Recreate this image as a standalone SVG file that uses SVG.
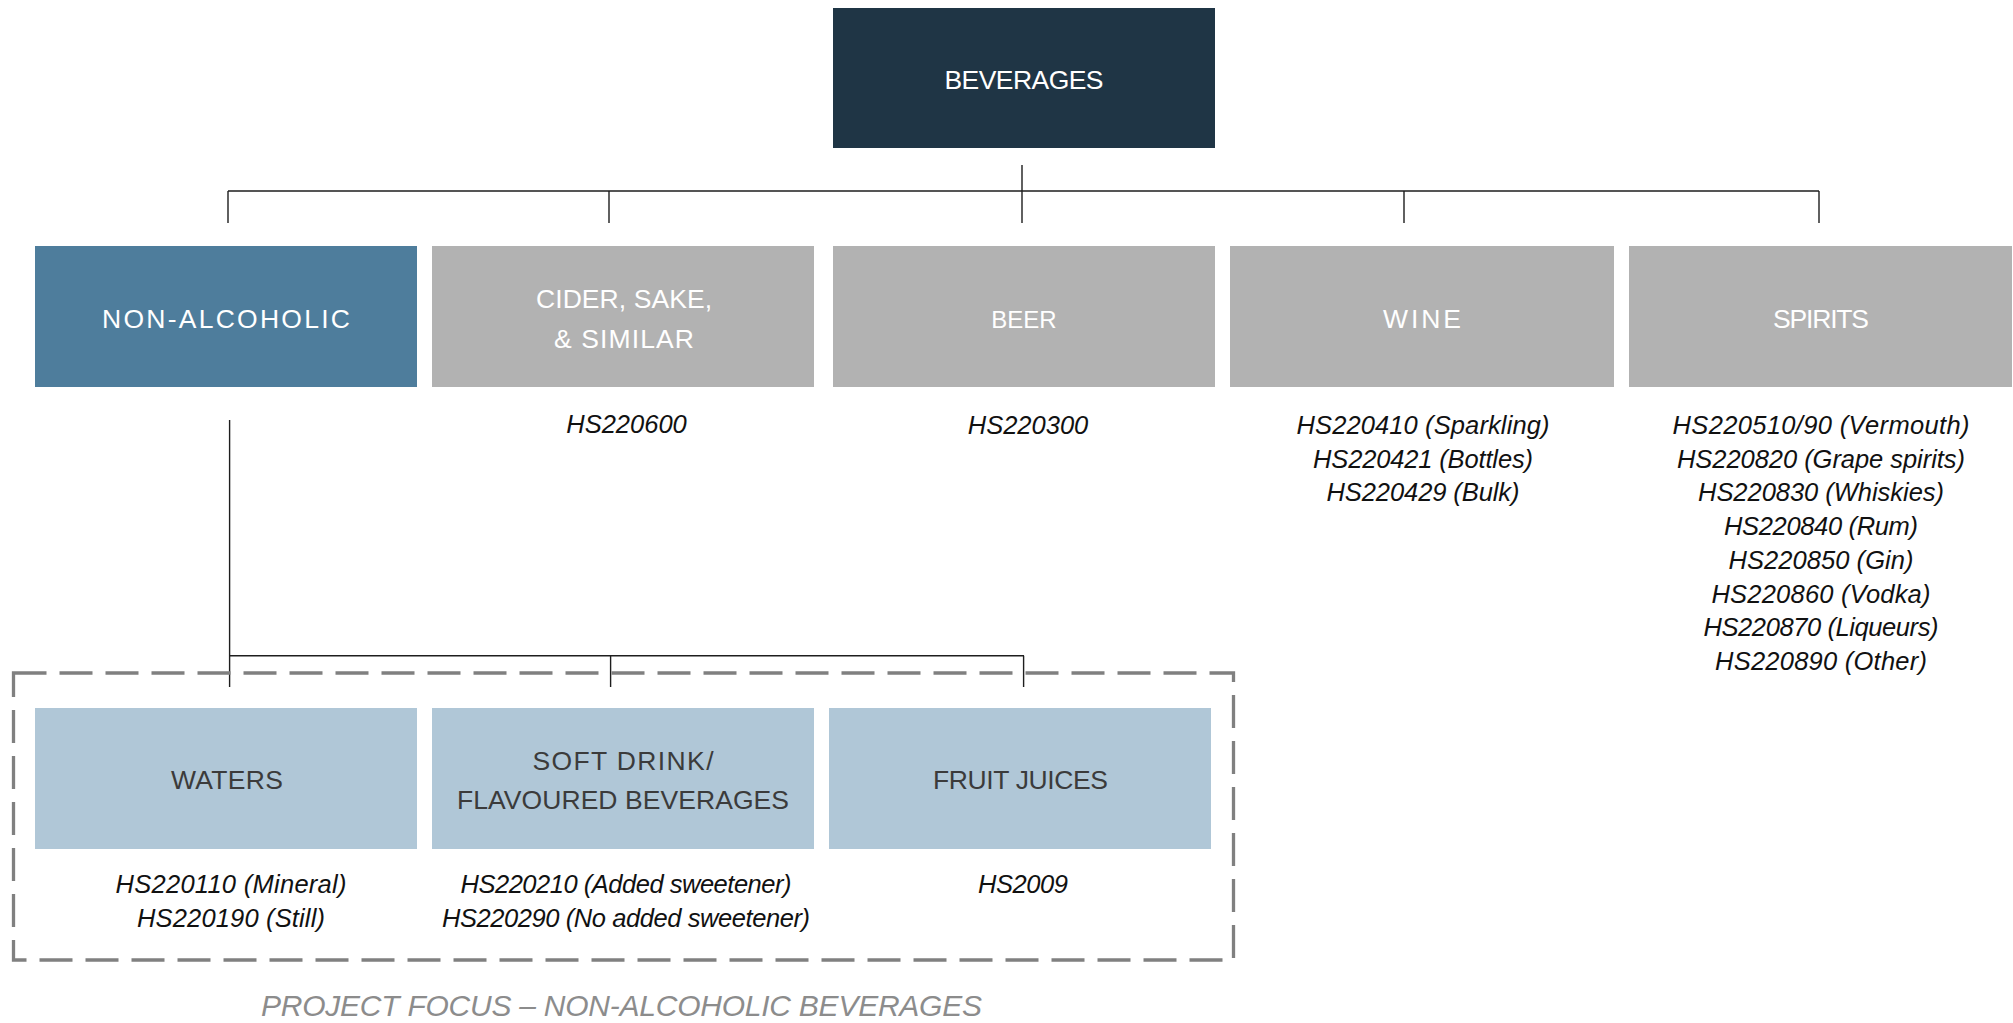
<svg xmlns="http://www.w3.org/2000/svg" width="2013" height="1023" viewBox="0 0 2013 1023">
<style>
.top{fill:#1f3545}
.sel{fill:#4e7d9c}
.gray{fill:#b2b2b2}
.lb{fill:#b0c7d7}
.hw{font-family:"Liberation Sans",Arial,sans-serif;font-size:26.5px;fill:#ffffff;text-anchor:middle}
.hd{font-family:"Liberation Sans",Arial,sans-serif;font-size:26.5px;fill:#3b3b3b;text-anchor:middle}
.hs{font-family:"Liberation Sans",Arial,sans-serif;font-size:25.5px;font-style:italic;fill:#111111;text-anchor:middle}
.cn{stroke:#1e1e1e;stroke-width:1.4;fill:none}
.focus{fill:none;stroke:#808080;stroke-width:3.3;stroke-dasharray:33 13}
.ft{font-family:"Liberation Sans",Arial,sans-serif;font-size:30px;font-style:italic;fill:#8c8c8c;text-anchor:middle}
</style>
<rect width="2013" height="1023" fill="#ffffff"/>
<g id="connectors">
<path class="cn" d="M1022 165V223M228 191H1819M228 191V223M609 191V223M1404 191V223M1819 191V223"/>
<path class="cn" d="M229.6 420V687M229.6 655.7H1024M610.6 655.7V687M1023.6 655.7V687"/>
</g>
<g id="focus-area">
<rect class="focus" x="13.5" y="673" width="1220" height="287"/>
<text class="ft" x="621.5" y="1016" textLength="721">PROJECT FOCUS – NON-ALCOHOLIC BEVERAGES</text>
</g>
<g id="beverages">
<rect class="top" x="833" y="8" width="382" height="140"/>
<text class="hw" x="1024" y="89" textLength="159">BEVERAGES</text>
</g>
<g id="non-alcoholic">
<rect class="sel" x="35" y="246" width="382" height="141"/>
<text class="hw" x="226" y="327.5" textLength="248">NON-ALCOHOLIC</text>
</g>
<g id="cider">
<rect class="gray" x="432" y="246" width="382" height="141"/>
<text class="hw" x="624" y="308" textLength="176">CIDER, SAKE,</text>
<text class="hw" x="624" y="348" textLength="140">&amp; SIMILAR</text>
<text class="hs" x="626.5" y="433">HS220600</text>
</g>
<g id="beer">
<rect class="gray" x="833" y="246" width="382" height="141"/>
<text class="hw" x="1024" y="327.5" style="font-size:24px">BEER</text>
<text class="hs" x="1028" y="434">HS220300</text>
</g>
<g id="wine">
<rect class="gray" x="1230" y="246" width="384" height="141"/>
<text class="hw" x="1422" y="327.5" textLength="78">WINE</text>
<text class="hs" x="1423" y="434" textLength="253">HS220410 (Sparkling)</text>
<text class="hs" x="1423" y="467.7" textLength="220">HS220421 (Bottles)</text>
<text class="hs" x="1423" y="501.4" textLength="193">HS220429 (Bulk)</text>
</g>
<g id="spirits">
<rect class="gray" x="1629" y="246" width="383" height="141"/>
<text class="hw" x="1821" y="327.5" textLength="96">SPIRITS</text>
<text class="hs" x="1821" y="434" textLength="297">HS220510/90 (Vermouth)</text>
<text class="hs" x="1821" y="467.7" textLength="288">HS220820 (Grape spirits)</text>
<text class="hs" x="1821" y="501.4" textLength="246">HS220830 (Whiskies)</text>
<text class="hs" x="1821" y="535" textLength="194">HS220840 (Rum)</text>
<text class="hs" x="1821" y="568.8" textLength="185">HS220850 (Gin)</text>
<text class="hs" x="1821" y="602.5" textLength="219">HS220860 (Vodka)</text>
<text class="hs" x="1821" y="636.2" textLength="235">HS220870 (Liqueurs)</text>
<text class="hs" x="1821" y="670" textLength="212">HS220890 (Other)</text>
</g>
<g id="waters">
<rect class="lb" x="35" y="708" width="382" height="141"/>
<text class="hd" x="227" y="789" textLength="112">WATERS</text>
<text class="hs" x="231" y="893" textLength="231">HS220110 (Mineral)</text>
<text class="hs" x="231" y="927" textLength="188">HS220190 (Still)</text>
</g>
<g id="soft-drinks">
<rect class="lb" x="432" y="708" width="382" height="141"/>
<text class="hd" x="623" y="769.5" textLength="181">SOFT DRINK/</text>
<text class="hd" x="623" y="809" textLength="332">FLAVOURED BEVERAGES</text>
<text class="hs" x="626" y="893" textLength="331">HS220210 (Added sweetener)</text>
<text class="hs" x="626" y="927" textLength="368">HS220290 (No added sweetener)</text>
</g>
<g id="fruit-juices">
<rect class="lb" x="829" y="708" width="382" height="141"/>
<text class="hd" x="1020.5" y="789" textLength="175">FRUIT JUICES</text>
<text class="hs" x="1023" y="893" textLength="90">HS2009</text>
</g>
</svg>
